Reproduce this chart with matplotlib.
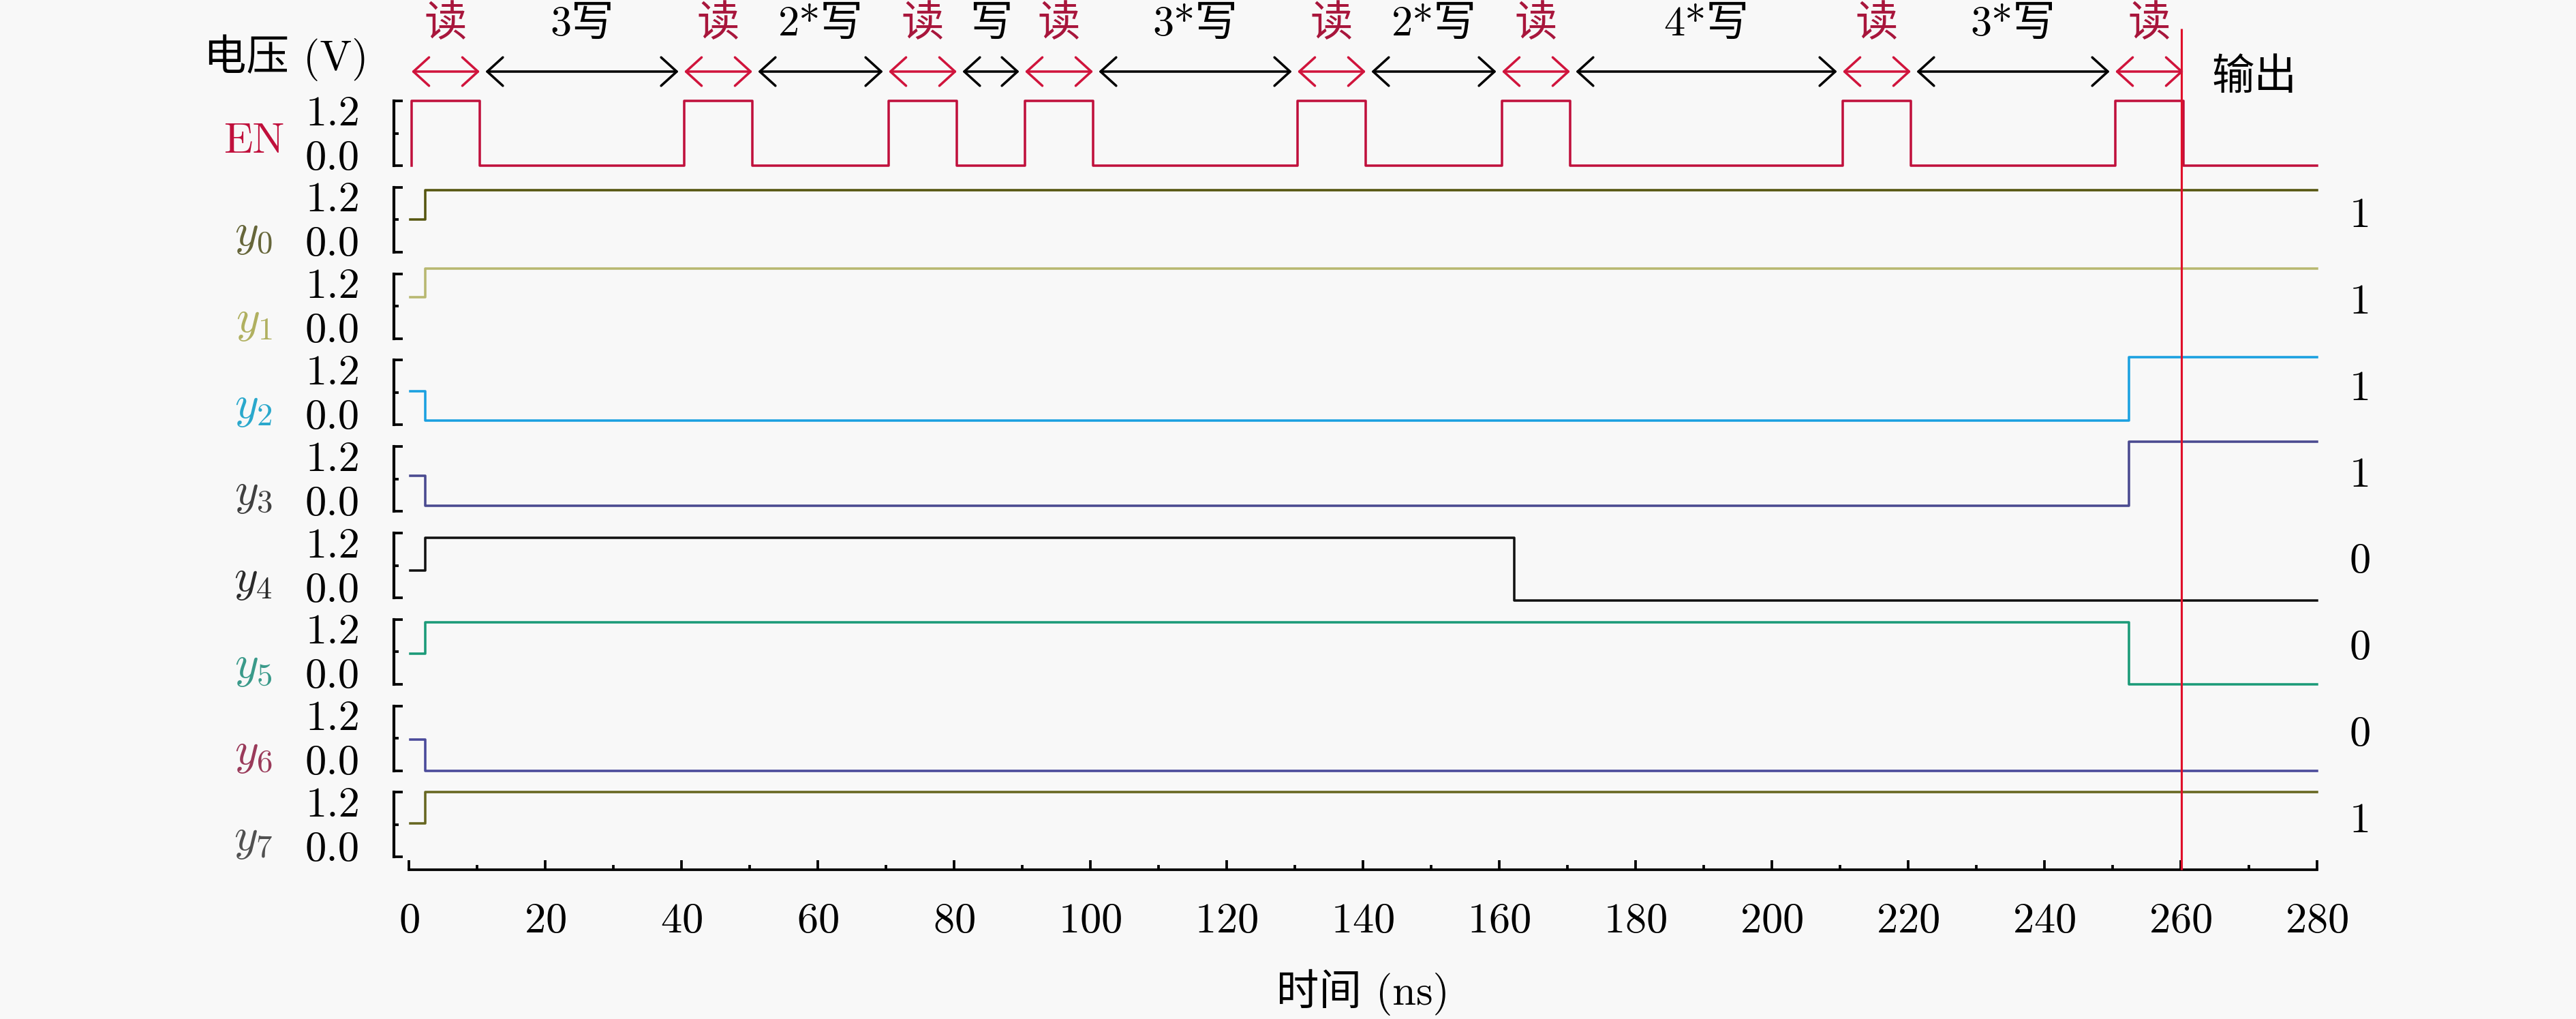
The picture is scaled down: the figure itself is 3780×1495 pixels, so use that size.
import matplotlib
matplotlib.use("Agg")
import matplotlib.pyplot as plt
from matplotlib import transforms
from matplotlib.ticker import MultipleLocator, FixedLocator

plt.rcParams['font.family'] = ['cmr10', 'Noto Sans CJK SC']
plt.rcParams['mathtext.fontset'] = 'cm'
plt.rcParams['axes.unicode_minus'] = False
plt.rcParams['axes.formatter.use_mathtext'] = True

# ---------------- data ----------------
t_end = 280
t_out = 260.1
# EN edges (ns): alternating rise / fall
en_edges = [0.4, 10.4, 40.4, 50.4, 70.4, 80.4, 90.4, 100.4,
            130.4, 140.4, 160.4, 170.4, 210.4, 220.4, 250.4, 260.4]
en_high = 1.2
en_low = 0.0

# phase annotations between EN edges
phase_labels = ['读', '3写', '读', '2*写', '读', '写', '读', '3*写',
                '读', '2*写', '读', '4*写', '读', '3*写', '读']

sig_names = ['$y_0$', '$y_1$', '$y_2$', '$y_3$', '$y_4$', '$y_5$', '$y_6$', '$y_7$']
sig_times = [
    [0.2, 2.4, 280],
    [0.2, 2.4, 280],
    [0.2, 2.4, 252.4, 280],
    [0.2, 2.4, 252.4, 280],
    [0.2, 2.4, 162.2, 280],
    [0.2, 2.4, 252.4, 280],
    [0.2, 2.4, 280],
    [0.2, 2.4, 280],
]
sig_levels = [
    [0.60, 1.15, 1.15],
    [0.76, 1.30, 1.30],
    [0.63, 0.08, 1.26, 1.26],
    [0.66, 0.10, 1.29, 1.29],
    [0.51, 1.11, -0.05, -0.05],
    [0.56, 1.15, 0.00, 0.00],
    [0.57, -0.01, -0.01],
    [0.62, 1.20, 1.20],
]
outputs = ['1', '1', '1', '1', '0', '0', '0', '1']

yticks = [0.0, 1.2]
ytick_labels = ['0.0', '1.2']
xticks_major = list(range(0, 281, 20))

# ---------------- styles ----------------
en_color = '#c0103c'
read_color = '#a8163c'
arrow_red = '#d0143c'
sig_colors = ['#55550f', '#b8b870', '#1aa0e0', '#4a4a90', '#111111', '#1a9a78', '#4a4a9a', '#666620']
label_colors = ['#66663a', '#b0b060', '#2aa8cc', '#404040', '#2a2a2a', '#3a9a8a', '#9a3a5a', '#505050']

W, H = 3780, 1495
DPI = 300
fig = plt.figure(figsize=(W / DPI, H / DPI), dpi=DPI)
fig.patch.set_facecolor('#f8f8f8')

FS = 15
LW = 0.85
x_left_px, x_right_px = 600, 3400
row_top0, row_pitch, row_h = 148, 126.8, 95

rows = []
n_rows = 1 + len(sig_names)
for i in range(n_rows):
    top = row_top0 + row_pitch * i
    bot = top + row_h
    ax = fig.add_axes([x_left_px / W, 1 - bot / H, (x_right_px - x_left_px) / W, row_h / H])
    ax.set_xlim(0, t_end)
    ax.set_ylim(0, 1.2)
    ax.patch.set_alpha(0)
    for s in ['top', 'right']:
        ax.spines[s].set_visible(False)
    ax.spines['left'].set_position(('outward', 22 * 72 / DPI))
    ax.spines['left'].set_linewidth(1.0)
    ax.yaxis.set_major_locator(FixedLocator(yticks))
    ax.set_yticklabels(ytick_labels)
    ax.yaxis.set_minor_locator(FixedLocator([0.6]))
    ax.tick_params(axis='y', which='major', direction='in', length=3.0, width=0.9,
                   labelsize=FS, pad=12)
    ax.tick_params(axis='y', which='minor', direction='in', length=1.6, width=0.9)
    if i < n_rows - 1:
        ax.spines['bottom'].set_visible(False)
        ax.tick_params(axis='x', which='both', bottom=False, labelbottom=False)
    else:
        ax.spines['bottom'].set_position(('outward', 19 * 72 / DPI))
        ax.spines['bottom'].set_linewidth(0.9)
        ax.xaxis.set_major_locator(FixedLocator(xticks_major))
        ax.xaxis.set_minor_locator(MultipleLocator(10))
        ax.tick_params(axis='x', which='major', direction='in', length=3.4, width=0.9,
                       labelsize=FS, pad=11.5)
        ax.tick_params(axis='x', which='minor', direction='in', length=1.7, width=0.9)
        ax.set_xlabel('时间 (ns)', fontsize=FS, labelpad=10)
    # shift the two y tick labels toward the middle of the bracket
    mt = ax.yaxis.get_major_ticks()
    mt[0].label1.set_transform(mt[0].label1.get_transform() +
                               transforms.ScaledTranslation(0, 16 / DPI, fig.dpi_scale_trans))
    mt[1].label1.set_transform(mt[1].label1.get_transform() +
                               transforms.ScaledTranslation(0, -14 / DPI, fig.dpi_scale_trans))
    rows.append(ax)

# EN waveform
en_t = [en_edges[0]] + en_edges + [t_end]
en_v = [en_low] + [en_high if k % 2 == 0 else en_low for k in range(len(en_edges))] + [en_low]
rows[0].plot(en_t, en_v, drawstyle='steps-post', color=en_color, lw=LW, clip_on=False)
rows[0].text(-18.3, 0.44, 'EN', ha='right', va='center', fontsize=FS, color=en_color, clip_on=False)

for i, (nm, tt, vv) in enumerate(zip(sig_names, sig_times, sig_levels)):
    ax = rows[i + 1]
    ax.plot(tt, vv, drawstyle='steps-post', color=sig_colors[i], lw=LW, clip_on=False)
    ax.text(-20, 0.30, nm, ha='right', va='center', fontsize=FS + 1, color=label_colors[i], clip_on=False)
    ax.text(286.3, 0.66, outputs[i], ha='center', va='center', fontsize=FS, clip_on=False)

# overlay: x in ns, y in pixels from the top
ov = fig.add_axes([0, 0, 1, 1])
ov.set_xlim(-x_left_px / 10, (W - x_left_px) / 10)
ov.set_ylim(H, 0)
ov.axis('off')
ov.patch.set_alpha(0)

arrow_y, label_y = 105, 36
for k, lab in enumerate(phase_labels):
    t0, t1 = en_edges[k], en_edges[k + 1]
    is_read = (lab == '读')
    c = arrow_red if is_read else 'black'
    shr = 0.0 if is_read else 2.0
    ov.annotate('', xy=(t0, arrow_y), xytext=(t1, arrow_y), xycoords='data',
                arrowprops=dict(arrowstyle='<->,head_length=0.55,head_width=0.5',
                                color=c, lw=LW, shrinkA=shr, shrinkB=shr,
                                mutation_scale=10))
    ov.text((t0 + t1) / 2, label_y, lab, ha='center', va='center', fontsize=FS,
            color=read_color if is_read else 'black')

ov.text(-18, 85, '电压 (V)', ha='center', va='center', fontsize=FS)
ov.text(270.8, 114, '输出', ha='center', va='center', fontsize=FS)
ov.vlines(t_out, 42, 1276, color='#e0102a', lw=0.75)

fig.savefig('out.png', dpi=DPI, facecolor=fig.get_facecolor())
